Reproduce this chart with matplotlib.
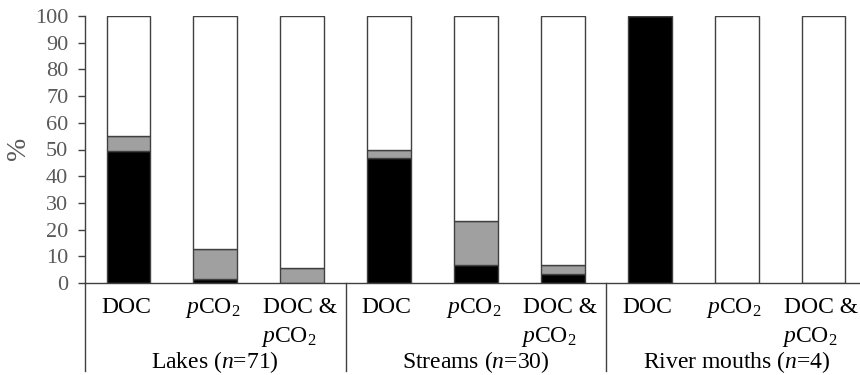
import matplotlib
matplotlib.use("Agg")
import matplotlib.pyplot as plt
import matplotlib.transforms as mtransforms
import numpy as np

plt.rcParams['font.family'] = ['Liberation Serif', 'DejaVu Serif']
plt.rcParams['mathtext.fontset'] = 'custom'
plt.rcParams['mathtext.rm'] = 'Liberation Serif'
plt.rcParams['mathtext.it'] = 'Liberation Serif:italic'

# categories and groups
line1 = ['DOC', '$p$CO$_2$', 'DOC &'] * 3
line2 = ['', '', '$p$CO$_2$'] * 3
groups = ['Lakes ($n$=71)', 'Streams ($n$=30)', 'River mouths ($n$=4)']

# stacked percentages (black bottom, grey middle, white to 100)
black = [49.3, 1.4, 0.0, 46.7, 6.7, 3.3, 100.0, 0.0, 0.0]
grey = [5.6, 11.3, 5.6, 3.3, 16.6, 3.4, 0.0, 0.0, 0.0]

black = np.array(black)
grey = np.array(grey)
white = 100 - black - grey

x = np.arange(len(black))
edge = '#404040'
w = 0.505

fig = plt.figure(figsize=(8.6, 3.75), dpi=100)
ax = fig.add_axes([85 / 860, 1 - 283 / 375, 1 - 85 / 860, 267 / 375])

ax.bar(x, black, w, color='black', edgecolor=edge, linewidth=1.0)
ax.bar(x, grey, w, bottom=black, color='#a0a0a0', edgecolor=edge, linewidth=1.0)
ax.bar(x, white, w, bottom=black + grey, color='white', edgecolor=edge, linewidth=1.0)

ax.set_xlim(-0.5, 8.42)
ax.set_ylim(0, 100)
ax.set_yticks(np.arange(0, 101, 10))
ax.tick_params(axis='y', labelsize=16, labelcolor='#595959', color=edge,
               length=5, width=1.0, pad=7)
ax.set_xticks([])
for s in ['top', 'right']:
    ax.spines[s].set_visible(False)
ax.spines['left'].set_color(edge)
ax.spines['bottom'].set_color(edge)
ax.spines['left'].set_linewidth(1.0)
ax.spines['bottom'].set_linewidth(1.0)

# y label placed by hand so it stays inside the figure
fig.text(19 / 860, 0.603, '%', rotation=90, ha='center', va='center',
         fontsize=20, color='#595959')

trans = mtransforms.blended_transform_factory(ax.transData, ax.transAxes)
for i in x:
    ax.text(i - 0.03, -0.112, line1[i], transform=trans, ha='center', va='baseline',
            fontsize=17, color='black')
    if line2[i]:
        ax.text(i - 0.16, -0.222, line2[i], transform=trans, ha='center', va='baseline',
                fontsize=17, color='black')

for g, name in enumerate(groups):
    ax.text(3 * g + 1, -0.32, name, transform=trans, ha='center', va='baseline',
            fontsize=17, color='black')

# group separators under the axis
for sx in [-0.5, 2.5, 5.5]:
    ax.plot([sx, sx], [0, -0.33], transform=trans, color=edge, lw=1.0, clip_on=False)

fig.savefig('out.png', dpi=100)
